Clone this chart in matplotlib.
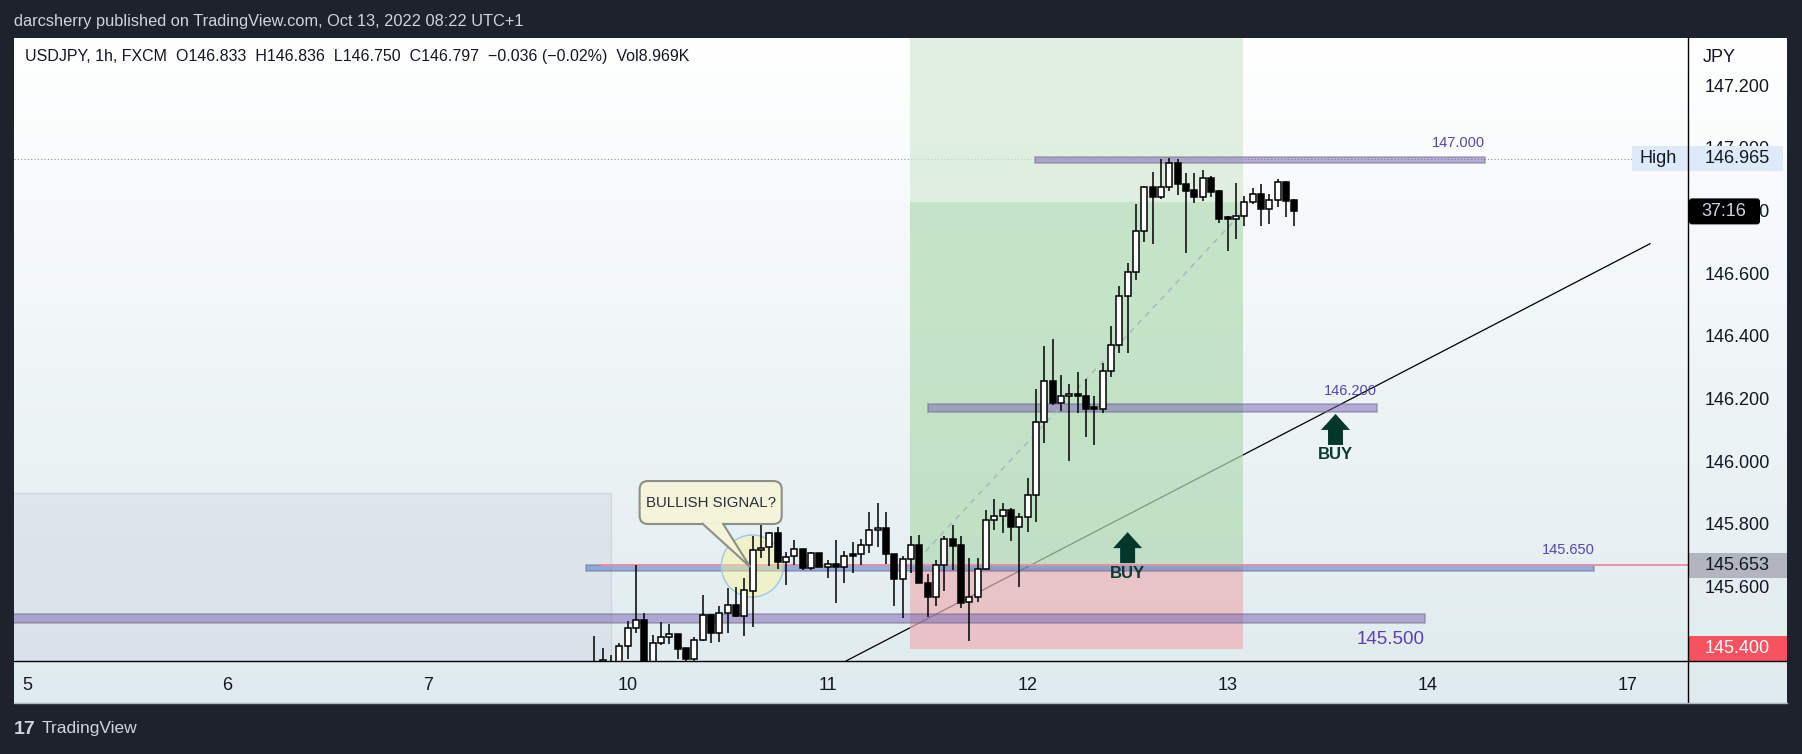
import matplotlib.pyplot as plt
import numpy as np
from matplotlib.lines import Line2D
from matplotlib.patches import Ellipse, FancyBboxPatch, Polygon, Rectangle

W, H = 1802, 754
plt.rcParams["font.family"] = ["Liberation Sans", "DejaVu Sans"]

# hourly candles, Sun 9 Oct 20:00 -> Thu 13 Oct 08:00 (USDJPY, FXCM)
opens = [145.33, 145.36, 145.35, 145.34, 145.410, 145.467, 145.493, 145.35, 145.419, 145.439,
         145.448, 145.404, 145.368, 145.429, 145.510, 145.451, 145.515, 145.541, 145.508, 145.587,
         145.716, 145.726, 145.770, 145.680, 145.698, 145.719, 145.659, 145.707, 145.664, 145.672,
         145.664, 145.703, 145.703, 145.732, 145.781, 145.786, 145.703, 145.624, 145.687, 145.732,
         145.613, 145.566, 145.669, 145.751, 145.733, 145.552, 145.566, 145.656, 145.813, 145.826,
         145.844, 145.791, 145.823, 145.893, 146.124, 146.257, 146.185, 146.207, 146.208, 146.208,
         146.169, 146.168, 146.287, 146.371, 146.527, 146.603, 146.735, 146.874, 146.842, 146.876,
         146.951, 146.885, 146.865, 146.842, 146.903, 146.862, 146.774, 146.774, 146.783, 146.826,
         146.853, 146.804, 146.833, 146.890, 146.833]
highs = [145.443, 145.404, 145.382, 145.419, 145.490, 145.669, 145.515, 145.445, 145.486, 145.481,
         145.450, 145.406, 145.439, 145.574, 145.512, 145.538, 145.595, 145.598, 145.627, 145.762,
         145.807, 145.775, 145.791, 145.712, 145.749, 145.721, 145.712, 145.709, 145.685, 145.749,
         145.714, 145.744, 145.751, 145.837, 145.866, 145.839, 145.705, 145.698, 145.762, 145.765,
         145.641, 145.685, 145.762, 145.797, 145.762, 145.691, 145.691, 145.845, 145.880, 145.866,
         145.850, 145.834, 145.946, 146.230, 146.368, 146.389, 146.275, 146.247, 146.284, 146.263,
         146.208, 146.315, 146.432, 146.559, 146.632, 146.821, 146.878, 146.923, 146.964, 146.967,
         146.964, 146.919, 146.921, 146.929, 146.910, 146.865, 146.782, 146.889, 146.846, 146.871,
         146.885, 146.853, 146.900, 146.895, 146.836]
lows = [145.30, 145.33, 145.32, 145.32, 145.370, 145.451, 145.33, 145.34, 145.413, 145.416,
        145.368, 145.36, 145.36, 145.428, 145.421, 145.425, 145.451, 145.504, 145.444, 145.472,
        145.691, 145.667, 145.656, 145.605, 145.669, 145.653, 145.653, 145.662, 145.627, 145.549,
        145.613, 145.643, 145.669, 145.707, 145.728, 145.672, 145.539, 145.501, 145.645, 145.613,
        145.502, 145.539, 145.587, 145.653, 145.532, 145.428, 145.552, 145.653, 145.781, 145.772,
        145.747, 145.600, 145.775, 145.807, 146.059, 146.180, 146.161, 146.002, 146.155, 146.079,
        146.052, 146.153, 146.270, 146.345, 146.345, 146.578, 146.700, 146.692, 146.836, 146.863,
        146.849, 146.663, 146.823, 146.831, 146.842, 146.761, 146.672, 146.710, 146.751, 146.821,
        146.751, 146.757, 146.812, 146.780, 146.750]
closes = [145.34, 145.365, 145.34, 145.410, 145.467, 145.493, 145.34, 145.419, 145.439, 145.448,
          145.402, 145.368, 145.429, 145.510, 145.451, 145.515, 145.541, 145.508, 145.589, 145.716,
          145.724, 145.770, 145.680, 145.696, 145.719, 145.659, 145.707, 145.664, 145.672, 145.664,
          145.699, 145.699, 145.732, 145.781, 145.786, 145.703, 145.624, 145.687, 145.732, 145.613,
          145.566, 145.669, 145.751, 145.730, 145.549, 145.566, 145.656, 145.813, 145.826, 145.844,
          145.791, 145.823, 145.893, 146.124, 146.257, 146.185, 146.207, 146.208, 146.207, 146.167,
          146.168, 146.287, 146.371, 146.527, 146.603, 146.735, 146.874, 146.842, 146.876, 146.951,
          146.884, 146.863, 146.842, 146.903, 146.860, 146.772, 146.773, 146.783, 146.826, 146.853,
          146.804, 146.833, 146.890, 146.831, 146.797]

day_ticks = [-68, -44, -20, 4, 28, 52, 76, 100, 124]
day_labels = ["5", "6", "7", "10", "11", "12", "13", "14", "17"]
price_ticks = [145.4, 145.6, 145.8, 146.0, 146.2, 146.4, 146.6, 146.8, 147.0, 147.2]

# drawings, in (bar, price)
zone_x0 = [52.9, 40.0, -1.0, -70.0]
zone_x1 = [106.9, 93.9, 120.0, 99.7]
zone_lo = [146.951, 146.158, 145.651, 145.485]
zone_hi = [146.970, 146.183, 145.670, 145.513]
zone_text = ["147.000", "146.200", "145.650", "145.500"]
zone_text_y = [147.014, 146.224, 145.716, 145.433]

pos_x0, pos_x1 = 37.9, 77.85
pos_entry, pos_stop, pos_now, pos_target = 145.66, 145.40, 146.828, 148.0
trend_x = [30.2, 126.7]
trend_y = [145.363, 146.694]
high_price = 146.965
last_price = 146.797
line_price = 145.668
buy_x = [64.0, 88.95]
buy_y = [145.774, 146.151]

XL = (-69.64, 131.25)
YL = (145.363, 147.350)
PX = (XL[1] - XL[0]) / 1674.0   # one pixel in bars
PY = (YL[1] - YL[0]) / 623.0    # one pixel in price

fig = plt.figure(figsize=(W / 100, H / 100), dpi=100, facecolor="#1e222d")

# background gradient of the chart block
bg = fig.add_axes([14 / W, 51 / H, 1773 / W, 665 / H], zorder=-1)
top = np.array([255, 255, 255]) / 255
bot = np.array([223, 235, 238]) / 255
t = np.linspace(0, 1, 256)[:, None]
grad = top[None, :] * (1 - t) + bot[None, :] * t
bg.imshow(grad[:, None, :], aspect="auto", extent=[0, 1, 0, 1])
bg.axis("off")

ax = fig.add_axes([14 / W, 93 / H, 1674 / W, 623 / H])
ax.patch.set_alpha(0)
ax.set_xlim(*XL)
ax.set_ylim(*YL)
for s in ax.spines.values():
    s.set_visible(False)
ax.set_yticks([])
ax.set_xticks(day_ticks, day_labels)
ax.tick_params(axis="x", length=0, pad=11.5, labelsize=13, labelcolor="#131722")

# gray box on the left
ax.add_patch(Rectangle((XL[0] - 1, 145.2), 2.05 - XL[0] + 1, 145.898 - 145.2,
                       fc="#c3cbd8", alpha=0.28, ec="#a9adb3", lw=1, zorder=1.5))

ax.axhline(high_price, color="#8a8e99", ls=(0, (1, 2)), lw=0.8, zorder=2)
ax.plot(trend_x, trend_y, color="black", lw=0.9, zorder=2.8)

# long position tool
w = pos_x1 - pos_x0
ax.add_patch(Rectangle((pos_x0, pos_now), w, pos_target - pos_now, fc="#d5ead4", alpha=0.7, lw=0, zorder=3))
ax.add_patch(Rectangle((pos_x0, pos_entry), w, pos_now - pos_entry, fc="#b1dbb3", alpha=0.7, lw=0, zorder=3))
ax.add_patch(Rectangle((pos_x0, pos_stop), w, pos_entry - pos_stop, fc="#ebb1b6", alpha=0.7, lw=0, zorder=3))

# horizontal zones
for i in range(len(zone_lo)):
    col = "#466dc6" if zone_text[i] == "145.650" else "#7a62b6"
    ax.add_patch(Rectangle((zone_x0[i], zone_lo[i]), zone_x1[i] - zone_x0[i], zone_hi[i] - zone_lo[i],
                           fc=col, alpha=0.5, ec="#6e6a88", lw=1.2, zorder=3.2))
    big = zone_text[i] == "145.500"
    ax.text(zone_x1[i], zone_text_y[i], zone_text[i], ha="right", va="center",
            fontsize=13.5 if big else 10.5, color="#5a3fb5" if big else "#5448b0", zorder=9)

ax.plot([0.9, XL[1]], [line_price, line_price], color="#f08aa6", lw=1.3, zorder=4.2)
ax.plot([pos_x0, pos_x1], [pos_entry, last_price], color="#a9b3ba", ls=(0, (4, 4)), lw=1, zorder=5.5)

# highlight circle
ax.add_patch(Ellipse((18.96, 145.666), 62 * PX, 62 * PY, fc=(0.98, 0.97, 0.6, 0.45),
                     ec="#9cc7e6", lw=1, zorder=4.5))

# candles
o, h, l, c = map(np.array, (opens, highs, lows, closes))
x = np.arange(len(o))
up = c >= o
ax.vlines(x, l, h, color="black", lw=1.1, zorder=6)
lo = np.minimum(o, c)
bh = np.maximum(np.abs(c - o), 2 * PY)
ax.bar(x[up], bh[up], bottom=lo[up], width=0.74, color="white", edgecolor="black", lw=1.1, zorder=7)
ax.bar(x[~up], bh[~up], bottom=lo[~up], width=0.74, color="black", edgecolor="black", lw=1.1, zorder=7)

# callout
ax.add_patch(FancyBboxPatch((5.44, 145.800), 17.05, 0.137, boxstyle="round,pad=0,rounding_size=1.0",
                            mutation_aspect=PY / PX, fc="#f3f4da", ec="#8d9085", lw=1.5, zorder=8))
ax.add_patch(Polygon([(12.9, 145.803), (18.7, 145.663), (15.4, 145.803)], closed=False,
                     fc="#f3f4da", ec="#8d9085", lw=1.5, zorder=8.5))
ax.text(13.97, 145.8685, "BULLISH SIGNAL?", ha="center", va="center", fontsize=10.8,
        color="#2a2e39", zorder=9)

# buy arrows
for bx, by in zip(buy_x, buy_y):
    hw, sw = 14.5 * PX, 7.5 * PX
    hh, sh = 16 * PY, 31 * PY
    pts = [(bx, by), (bx + hw, by - hh), (bx + sw, by - hh), (bx + sw, by - sh),
           (bx - sw, by - sh), (bx - sw, by - hh), (bx - hw, by - hh)]
    ax.add_patch(Polygon(pts, closed=True, fc="#04372c", lw=0, zorder=9))
    ax.text(bx, by - 41 * PY, "BUY", ha="center", va="center", fontsize=12, weight="bold",
            color="#0b3b30", zorder=9)

# "High" label at right edge of the plot
ax.add_patch(Rectangle((XL[1] - 56 * PX, high_price - 12.5 * PY), 56 * PX, 25 * PY,
                       fc="#dceaf9", lw=0, zorder=9, clip_on=False))
ax.text(XL[1] - 48 * PX, high_price, "High", ha="left", va="center", fontsize=13, color="#131722", zorder=10)

# price scale
pax = fig.add_axes([1688 / W, 93 / H, 99 / W, 623 / H])
pax.patch.set_alpha(0)
pax.set_xlim(0, 99)
pax.set_ylim(*YL)
for s in pax.spines.values():
    s.set_visible(False)
pax.set_xticks([])
pax.set_yticks(price_ticks, [f"{p:.3f}" for p in price_ticks])
pax.yaxis.tick_right()
pax.tick_params(axis="y", length=0, pad=-82 * 0.72, labelsize=13, labelcolor="#131722")


def price_label(p, text, fc, tc, x0=0, x1=95):
    pax.add_patch(Rectangle((x0, p - 12.5 * PY), x1 - x0, 25 * PY, fc=fc, lw=0, zorder=5))
    pax.text(17, p, text, ha="left", va="center", fontsize=13, color=tc, zorder=6)


price_label(high_price, f"{high_price:.3f}", "#dceaf9", "#131722")
price_label(line_price, "145.653", "#b2b5be", "#131722", 1, 99)
price_label(pos_stop + 0.004, f"{pos_stop:.3f}", "#f7525f", "white", 1, 99)
pax.add_patch(FancyBboxPatch((1, last_price - 13 * PY), 71, 26 * PY, boxstyle="round,pad=0,rounding_size=3",
                             mutation_aspect=PY, fc="black", lw=0, zorder=5))
pax.text(36, last_price, "37:16", ha="center", va="center", fontsize=13, color="#d1d4dc", zorder=6)

fig.text(1703 / W, 1 - 58 / H, "JPY", ha="left", va="center", fontsize=13, color="#131722")

# frame lines
fig.add_artist(Line2D([14 / W, 1787 / W], [1 - 661 / H] * 2, color="black", lw=1))
fig.add_artist(Line2D([1688 / W] * 2, [1 - 38 / H, 1 - 703 / H], color="black", lw=1))
fig.add_artist(Line2D([14 / W, 1787 / W], [1 - 703 / H] * 2, color="#b2b5be", lw=1))

# texts
fig.text(14 / W, 1 - 21.7 / H, "darcsherry published on TradingView.com, Oct 13, 2022 08:22 UTC+1",
         ha="left", va="center", fontsize=11.8, color="#d1d4dc")
fig.text(25 / W, 1 - 56.7 / H,
         "USDJPY, 1h, FXCM  O146.833  H146.836  L146.750  C146.797  \u22120.036 (\u22120.02%)  Vol8.969K",
         ha="left", va="center", fontsize=11.5, color="#131722")
fig.text(14 / W, 1 - 729 / H, "17", ha="left", va="center", fontsize=14, weight="bold", color="#d1d4dc")
fig.text(42 / W, 1 - 729 / H, "TradingView", ha="left", va="center", fontsize=12.5, color="#d1d4dc")

fig.savefig("out.png", dpi=100, facecolor=fig.get_facecolor())
